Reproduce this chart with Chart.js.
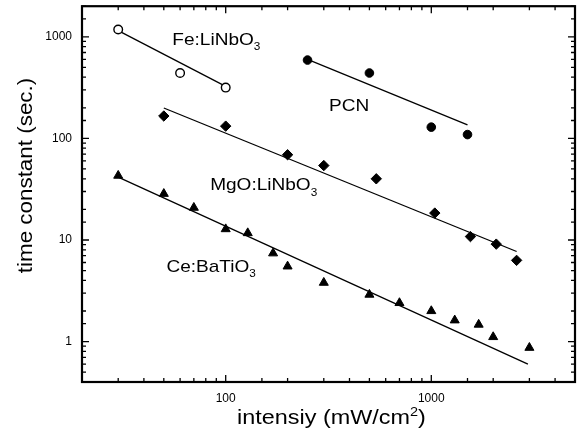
<!DOCTYPE html>
<html>
<head>
<meta charset="utf-8">
<script src="https://cdn.jsdelivr.net/npm/chart.js@4.4.0/dist/chart.umd.min.js"></script>
<style>
  body { margin: 0; background: #fff; }
  canvas { display: block; }
</style>
</head>
<body>
<canvas id="timeChart" width="582" height="441"></canvas>
<script>
// measured points (intensity mW/cm2, time constant s)
const feX = [30, 60, 100];
const feY = [1180, 440, 316];
const pcnX = [250, 500, 1000, 1500];
const pcnY = [590, 440, 129, 109];
const mgoX = [50, 100, 200, 300, 540, 1040, 1550, 2070, 2600];
const mgoY = [166, 132, 69, 54, 40, 18.4, 10.8, 9.1, 6.3];
const ceX = [30, 50, 70, 100, 128, 170, 200, 300, 500, 700, 1000, 1300, 1700, 2000, 3000];
const ceY = [43, 28.5, 20.8, 12.8, 11.7, 7.4, 5.5, 3.8, 2.9, 2.4, 2.0, 1.62, 1.47, 1.11, 0.87];

// fitted lines (end points)
const feFitX = [30, 100];
const feFitY = [1150, 325];
const pcnFitX = [250, 1500];
const pcnFitY = [600, 136];
const mgoFitX = [50, 2600];
const mgoFitY = [199, 7.7];
const ceFitX = [30, 2950];
const ceFitY = [41.5, 0.6];

const xRange = [20, 5000];
const yRange = [0.4, 2000];

// sample names: main text + subscript
const sampleNames = [
    { text: 'Fe:LiNbO', sub: '3', at: [55, 830] },
    { text: 'PCN', sub: '', at: [318, 187] },
    { text: 'MgO:LiNbO', sub: '3', at: [84, 30.7] },
    { text: 'Ce:BaTiO', sub: '3', at: [51.5, 4.8] }
];

const pts = (xs, ys) => xs.map((v, i) => ({ x: v, y: ys[i] }));
const isMajor = v => Math.abs(Math.log10(v) - Math.round(Math.log10(v))) < 1e-6;
const FONT = '"Liberation Sans", Arial, sans-serif';

const frameTicks = {
    id: 'frameTicks',
    afterDatasetsDraw(chart) {
        const { ctx, chartArea: a, scales: { x, y } } = chart;
        ctx.save();
        ctx.strokeStyle = '#000';
        ctx.lineWidth = 1.3;
        ctx.beginPath();
        x.ticks.forEach(t => {
            const px = x.getPixelForValue(t.value);
            const len = isMajor(t.value) ? 7 : 4;
            ctx.moveTo(px, a.bottom); ctx.lineTo(px, a.bottom - len);
            ctx.moveTo(px, a.top); ctx.lineTo(px, a.top + len);
        });
        y.ticks.forEach(t => {
            const py = y.getPixelForValue(t.value);
            const len = isMajor(t.value) ? 7 : 4;
            ctx.moveTo(a.left, py); ctx.lineTo(a.left + len, py);
            ctx.moveTo(a.right, py); ctx.lineTo(a.right - len, py);
        });
        ctx.stroke();
        ctx.lineWidth = 2.2;
        ctx.strokeRect(a.left, a.top, a.width, a.height);
        ctx.restore();
    }
};

function stretchedText(ctx, parts, x, y, size, sx, rot) {
    // parts: [text, kind] kind '' | 'sub' | 'sup'
    ctx.save();
    ctx.translate(x, y);
    if (rot) ctx.rotate(rot);
    ctx.scale(sx, 1);
    ctx.fillStyle = '#000';
    ctx.textBaseline = 'alphabetic';
    let total = 0;
    parts.forEach(p => {
        ctx.font = (p[1] ? size * 0.62 : size) + 'px ' + FONT;
        total += ctx.measureText(p[0]).width;
    });
    let cx = rot ? -total / 2 : 0;
    parts.forEach(p => {
        const s = p[1] ? size * 0.62 : size;
        ctx.font = s + 'px ' + FONT;
        const dy = p[1] === 'sub' ? size * 0.3 : p[1] === 'sup' ? -size * 0.42 : 0;
        ctx.fillText(p[0], cx, dy);
        cx += ctx.measureText(p[0]).width;
    });
    ctx.restore();
    return total * sx;
}

const labelsPlugin = {
    id: 'labelsPlugin',
    afterDraw(chart) {
        const { ctx, scales: { x, y } } = chart;
        sampleNames.forEach(n => {
            const parts = [[n.text, '']];
            if (n.sub) parts.push([n.sub, 'sub']);
            stretchedText(ctx, parts, x.getPixelForValue(n.at[0]), y.getPixelForValue(n.at[1]), 17, 1.12);
        });
        // axis titles
        const xParts = [['intensiy (mW/cm', ''], ['2', 'sup'], [')', '']];
        ctx.save();
        ctx.font = '20px ' + FONT;
        let w = ctx.measureText('intensiy (mW/cm)').width + ctx.measureText('2').width * 0.62;
        ctx.restore();
        stretchedText(ctx, xParts, 331.5 - w * 1.17 / 2, 424, 20, 1.17);
        stretchedText(ctx, [['time constant (sec.)', '']], 32, 175.5, 20, 1.12, -Math.PI / 2);
    }
};

const ctx = document.getElementById('timeChart');

new Chart(ctx, {
    type: 'scatter',
    data: {
        datasets: [
            {
                data: pts(feX, feY),
                pointStyle: 'circle',
                pointRadius: 4.3,
                backgroundColor: '#fff',
                borderColor: '#000',
                borderWidth: 1.4
            },
            {
                data: pts(pcnX, pcnY),
                pointStyle: 'circle',
                pointRadius: 4.3,
                backgroundColor: '#000',
                borderColor: '#000'
            },
            {
                data: pts(mgoX, mgoY),
                pointStyle: 'rectRot',
                pointRadius: 5.2,
                backgroundColor: '#000',
                borderColor: '#000'
            },
            {
                data: pts(ceX, ceY),
                pointStyle: 'triangle',
                pointRadius: 5.2,
                backgroundColor: '#000',
                borderColor: '#000'
            },
            { data: pts(feFitX, feFitY), showLine: true, pointRadius: 0, borderColor: '#000', borderWidth: 1.3 },
            { data: pts(pcnFitX, pcnFitY), showLine: true, pointRadius: 0, borderColor: '#000', borderWidth: 1.3 },
            { data: pts(mgoFitX, mgoFitY), showLine: true, pointRadius: 0, borderColor: '#000', borderWidth: 1.3 },
            { data: pts(ceFitX, ceFitY), showLine: true, pointRadius: 0, borderColor: '#000', borderWidth: 1.3 }
        ]
    },
    options: {
        responsive: false,
        animation: false,
        devicePixelRatio: 1,
        layout: {
            padding: { top: 5, right: 7, left: 0, bottom: 0 }
        },
        plugins: {
            legend: false,
            tooltip: {
                enabled: false
            }
        },
        scales: {
            x: {
                type: 'logarithmic',
                min: xRange[0],
                max: xRange[1],
                grid: { display: false, drawTicks: false },
                border: { display: false },
                ticks: {
                    autoSkip: false,
                    maxRotation: 0,
                    padding: 9,
                    color: '#000',
                    font: { family: FONT, size: 12 },
                    callback: v => isMajor(v) ? String(Math.round(v)) : ''
                },
                afterFit(scale) {
                    scale.height = 59;
                    scale.paddingLeft = 0;
                    scale.paddingRight = 0;
                }
            },
            y: {
                type: 'logarithmic',
                min: yRange[0],
                max: yRange[1],
                grid: { display: false, drawTicks: false },
                border: { display: false },
                ticks: {
                    autoSkip: false,
                    padding: 10,
                    color: '#000',
                    font: { family: FONT, size: 12 },
                    callback: v => isMajor(v) ? String(Math.round(v)) : ''
                },
                afterFit(scale) {
                    scale.width = 82;
                    scale.paddingTop = 0;
                    scale.paddingBottom = 0;
                }
            }
        }
    },
    plugins: [frameTicks, labelsPlugin]
});
</script>
</body>
</html>
